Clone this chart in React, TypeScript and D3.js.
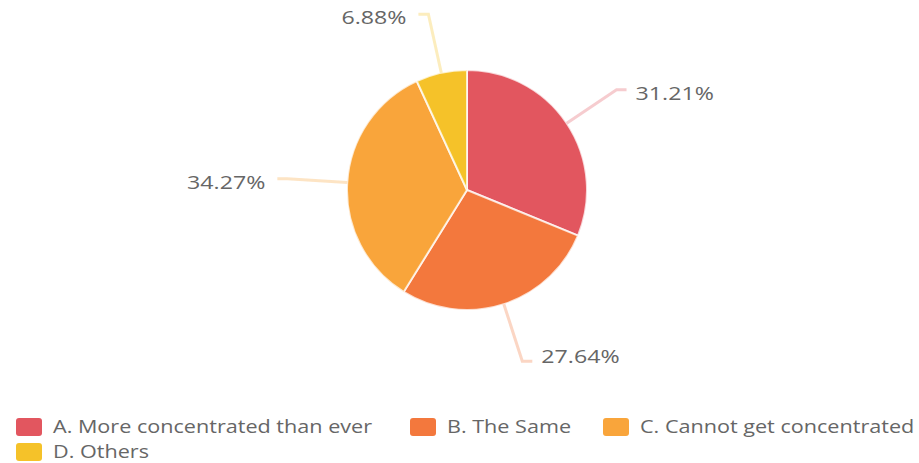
import React from "react";
import * as d3 from "d3";

const categories = [
  "A. More concentrated than ever",
  "B. The Same",
  "C. Cannot get concentrated",
  "D. Others",
];
const values = [31.21, 27.64, 34.27, 6.88];
const labels = ["31.21%", "27.64%", "34.27%", "6.88%"];
const colors = ["#E2565F", "#F3783D", "#F9A53B", "#F5C229"];

const W = 919;
const H = 463;

export default function App() {
  const cx = 467;
  const cy = 190;
  const r = 120;
  const pie = d3.pie<number>().sort(null).value((d) => d)(values);
  const arc = d3.arc<d3.PieArcDatum<number>>().innerRadius(0).outerRadius(r);

  const legendItems = [
    { x: 16, y: 427 },
    { x: 410, y: 427 },
    { x: 603, y: 427 },
    { x: 16, y: 452 },
  ];

  return (
    <svg
      width={W}
      height={H}
      style={{ position: "absolute", left: 0, top: 0, background: "#fff" }}
      fontFamily="'Open Sans', 'Noto Sans', sans-serif"
    >
      <g>
        {pie.map((p, i) => (
          <path
            key={i}
            d={arc(p) || ""}
            transform={`translate(${cx},${cy})`}
            fill={colors[i]}
            stroke="#fff"
            strokeOpacity={0.75}
            strokeWidth={2}
          />
        ))}
      </g>
      <g>
        {pie.map((p, i) => {
          const mid = (p.startAngle + p.endAngle) / 2;
          const sx = cx + r * Math.sin(mid);
          const sy = cy - r * Math.cos(mid);
          const R2 = r * 1.5;
          const ox = cx + R2 * Math.sin(mid);
          const oy = cy - R2 * Math.cos(mid);
          const right = Math.sin(mid) >= 0;
          const ex = ox + (right ? 10 : -10);
          const lx = ex + (right ? 9 : -12);
          const below = Math.cos(mid) < 0 && right;
          const ly = oy + (below ? -3 : 5);
          return (
            <g key={i}>
              <polyline
                points={`${sx},${sy} ${ox},${oy} ${ex},${oy}`}
                fill="none"
                stroke={colors[i]}
                strokeOpacity={0.3}
                strokeWidth={3}
              />
              <text
                transform={`translate(${lx},${ly}) scale(1.22,1)`}
                textAnchor={right ? "start" : "end"}
                dominantBaseline="middle"
                fontSize={19}
                fill="#666"
              >
                {labels[i]}
              </text>
            </g>
          );
        })}
      </g>
      <g>
        {categories.map((c, i) => (
          <g key={i} transform={`translate(${legendItems[i].x},${legendItems[i].y})`}>
            <rect x={0} y={-9} width={26} height={18} rx={3} fill={colors[i]} />
            <text
              transform="translate(37,1) scale(1.2,1)"
              dominantBaseline="middle"
              fontSize={18}
              fill="#666"
            >
              {c}
            </text>
          </g>
        ))}
      </g>
    </svg>
  );
}
